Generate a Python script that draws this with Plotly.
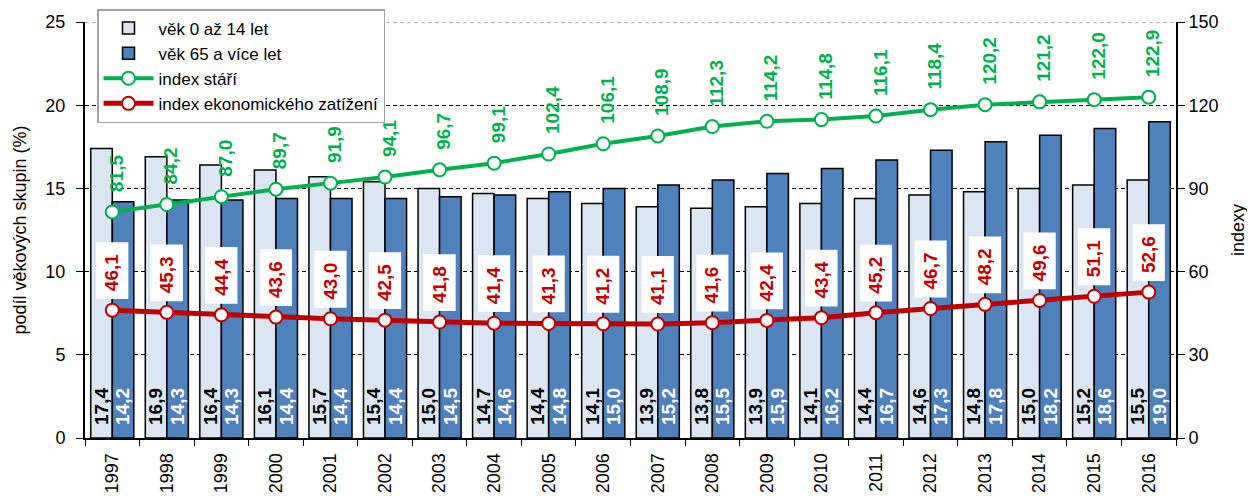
import plotly.graph_objects as go

years = [str(y) for y in range(1997, 2017)]
age_0_14 = [17.4, 16.9, 16.4, 16.1, 15.7, 15.4, 15.0, 14.7, 14.4, 14.1,
            13.9, 13.8, 13.9, 14.1, 14.4, 14.6, 14.8, 15.0, 15.2, 15.5]
age_65 = [14.2, 14.3, 14.3, 14.4, 14.4, 14.4, 14.5, 14.6, 14.8, 15.0,
          15.2, 15.5, 15.9, 16.2, 16.7, 17.3, 17.8, 18.2, 18.6, 19.0]
index_stari = [81.5, 84.2, 87.0, 89.7, 91.9, 94.1, 96.7, 99.1, 102.4, 106.1,
               108.9, 112.3, 114.2, 114.8, 116.1, 118.4, 120.2, 121.2, 122.0, 122.9]
index_ekon = [46.1, 45.3, 44.4, 43.6, 43.0, 42.5, 41.8, 41.4, 41.3, 41.2,
              41.1, 41.6, 42.4, 43.4, 45.2, 46.7, 48.2, 49.6, 51.1, 52.6]

FONT = "Liberation Sans, Arial, sans-serif"
GREEN = "#00B050"
RED = "#C00000"
LIGHT = "#DCE6F2"
DARK = "#4F81BD"

def cz(v):
    return f"{v:.1f}".replace(".", ",")

# figure geometry (page body has an 8px margin)
W, H = 1247, 496
ML, MR, MT, MB = 77, 79, 14, 66
PLOT_H = H - MT - MB
Y1MAX, Y2MAX = 25, 150
N = len(years)
BW = 0.395          # one bar width in category units
LBL_FONT = 19

fig = go.Figure()
fig.add_trace(go.Bar(x=years, y=age_0_14, name="věk 0 až 14 let",
                     width=BW, offset=-BW,
                     marker=dict(color=LIGHT, line=dict(color="black", width=1.5))))
fig.add_trace(go.Bar(x=years, y=age_65, name="věk 65 a více let",
                     width=BW, offset=0,
                     marker=dict(color=DARK, line=dict(color="black", width=1.5))))
# white boxes behind the economic-index labels
fig.add_trace(go.Bar(x=years, y=[20.5] * N, base=[v + 4 for v in index_ekon],
                     yaxis="y2", width=0.59, offset=-0.295, showlegend=False, hoverinfo="skip",
                     marker=dict(color="white", line=dict(width=0))))
fig.add_trace(go.Scatter(x=years, y=index_stari, name="index stáří", yaxis="y2",
                         mode="lines+markers",
                         line=dict(color=GREEN, width=4),
                         marker=dict(size=13, color="white", line=dict(color=GREEN, width=2))))
fig.add_trace(go.Scatter(x=years, y=index_ekon, name="index ekonomického zatížení", yaxis="y2",
                         mode="lines+markers",
                         line=dict(color=RED, width=5),
                         marker=dict(size=13, color="white", line=dict(color=RED, width=2))))

fig.add_shape(type="line", xref="paper", yref="y", x0=0, x1=1, y0=Y1MAX, y1=Y1MAX,
              line=dict(color="#A0A0A0", width=1.5, dash="4px,3px"), layer="below")

label_axes = {}
ax_n = 3

def add_label_axis(tickvals, ticktext, position, color):
    global ax_n
    name = f"xaxis{ax_n}"
    label_axes[name] = dict(
        overlaying="x", anchor="free", position=position, side="top",
        type="linear", range=[-0.5, N - 0.5],
        showgrid=False, zeroline=False, showline=False, ticks="",
        tickmode="array", tickvals=tickvals, ticktext=ticktext, tickangle=-90,
        tickfont=dict(family=FONT, size=LBL_FONT, color=color, weight="bold"),
        automargin=False, fixedrange=True)
    fig.add_trace(go.Scatter(x=[tickvals[0]], y=[None], xaxis=f"x{ax_n}", yaxis="y2",
                             mode="markers", marker=dict(opacity=0),
                             showlegend=False, hoverinfo="skip"))
    ax_n += 1

# bar value labels (same baseline for all bars)
bar_vals, bar_text = [], []
for i in range(N):
    bar_vals += [i - BW / 2, i + BW / 2]
    bar_text += [f"<span style='color:black'>{cz(age_0_14[i])}</span>",
                 f"<span style='color:white'>{cz(age_65[i])}</span>"]
add_label_axis(bar_vals, bar_text, 13 / PLOT_H, "black")

# index labels
for i in range(N):
    add_label_axis([i + 0.08], [cz(index_stari[i])], index_stari[i] / Y2MAX + 20 / PLOT_H, GREEN)
for i in range(N):
    add_label_axis([i], [cz(index_ekon[i])], index_ekon[i] / Y2MAX + 19 / PLOT_H, RED)

fig.update_layout(
    width=W, height=H,
    margin=dict(l=ML, r=MR, t=MT, b=MB, autoexpand=False),
    paper_bgcolor="white", plot_bgcolor="white",
    font=dict(family=FONT, size=18, color="black"),
    barmode="overlay",
    showlegend=True,
    legend=dict(x=0.011, y=1 + 13 / PLOT_H, xanchor="left", yanchor="top",
                bgcolor="white", bordercolor="#A0A0A0", borderwidth=1.5,
                font=dict(family=FONT, size=17), tracegroupgap=0,
                itemwidth=50),
    xaxis=dict(type="category", range=[-0.5, N - 0.5], tickangle=-90,
               ticks="outside", ticklen=6, tickcolor="black", ticklabelstandoff=6,
               tickson="boundaries", showline=True, linecolor="black", linewidth=2,
               tickfont=dict(size=18), showgrid=False),
    yaxis=dict(range=[0, Y1MAX], tickvals=[0, 5, 10, 15, 20, 25], ticks="outside", ticklen=7,
               tickcolor="black", ticklabelstandoff=7,
               showline=True, linecolor="black", linewidth=2,
               showgrid=True, gridcolor="black", griddash="4px,3px", gridwidth=1,
               zeroline=False,
               title=dict(text="podíl věkových skupin (%)", font=dict(size=18), standoff=14),
               tickfont=dict(size=18)),
    yaxis2=dict(range=[0, Y2MAX], tickvals=[0, 30, 60, 90, 120, 150], overlaying="y", side="right",
                ticks="outside", ticklen=7, tickcolor="black",
                showline=True, linecolor="black", linewidth=2,
                showgrid=False, zeroline=False,
                title=dict(text="indexy", font=dict(size=18), standoff=14),
                tickfont=dict(size=18)),
    **label_axes,
)

fig.write_html("out.html")
